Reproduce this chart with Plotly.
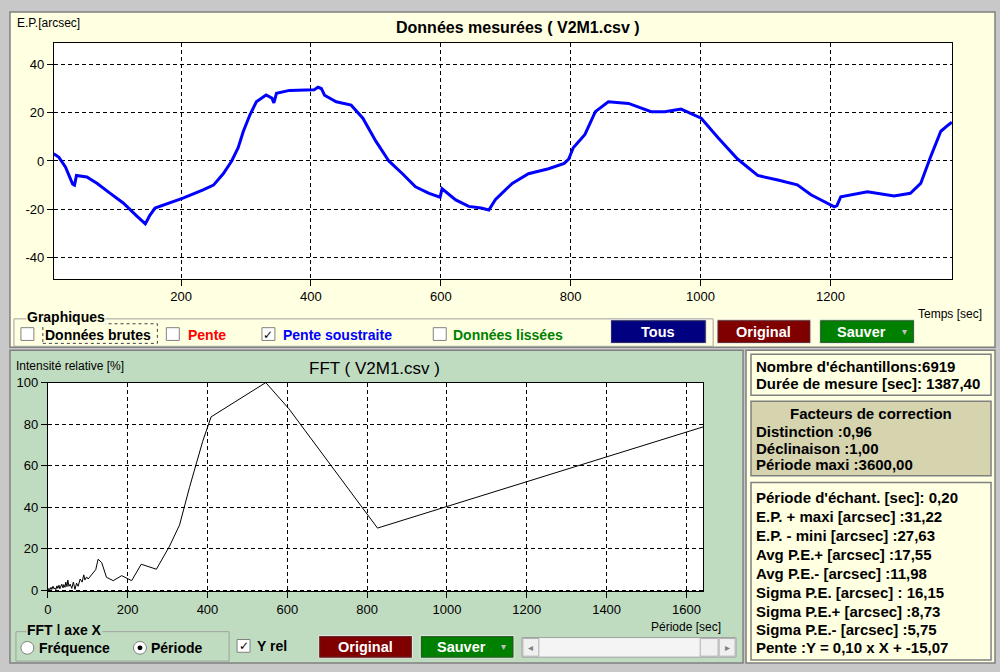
import plotly.graph_objects as go

# Données mesurées (pente soustraite) : temps [sec] / E.P. [arcsec]
temps = [4, 12, 22, 33, 36, 39, 55, 71, 91, 111,
         132, 145, 148, 152, 160, 183, 203, 234, 250, 265,
         278, 288, 296, 306, 316, 331, 340, 343, 347, 367,
         388, 405, 411, 416, 421, 439, 462, 480, 500, 520,
         541, 561, 582, 599, 602, 623, 643, 662, 674, 684,
         694, 710, 735, 766, 790, 797, 804, 822, 838, 858,
         889, 924, 945, 970, 1001, 1027, 1057, 1088, 1119, 1149,
         1170, 1190, 1206, 1210, 1216, 1257, 1298, 1323, 1339, 1354,
         1370, 1382, 1387]
erreur = [3, 1.5, -2.5, -9.5, -10, -6, -6.6, -9.3, -13.4, -17.4,
          -22.8, -26, -24.5, -22.5, -19.5, -17.4, -15.4, -12, -10, -5.3,
          0, 5.5, 12.3, 19, 24.5, 27.3, 26, 24, 28, 29.2,
          29.2, 29.5, 30.5, 30, 27.2, 24.5, 23.1, 17.7, 8.2, 0,
          -5.3, -10.7, -13.4, -15, -11.5, -16.1, -18.8, -19.5, -20.3, -16,
          -13.4, -9.3, -5.3, -3.2, -1, 0.8, 5.5, 11, 20.4, 24.5,
          23.8, 20.4, 20.4, 21.5, 17.7, 9.6, 0.8, -6, -7.9, -9.9,
          -14, -16.8, -19, -18.5, -14.8, -12.7, -14.5, -13.4, -9.3, 1.5,
          12.3, 15, 16]

# FFT : période [sec] / intensité relative [%]
periode = [0, 3, 5, 8, 10, 13, 15, 18, 20, 23,
           25, 28, 30, 33, 35, 38, 40, 43, 45, 48,
           50, 53, 56, 60, 64, 68, 72, 76, 81, 86,
           90, 93, 97, 101, 107, 114, 120, 126, 135, 147,
           164, 185, 201, 210, 234, 272, 305, 330, 355, 388,
           409, 546, 604, 821, 826, 1642]
intensite = [0, 1, 0.3, 1.5, 0.5, 2, 0.8, 1.2, 0.4, 2.2,
             1, 2.5, 0.8, 1.8, 3, 1.2, 2.8, 1.5, 4, 1.8,
             5, 2, 3, 1, 4, 0.5, 3.5, 2, 5.5, 4,
             7.5, 5, 6.5, 5.5, 7, 8.7, 10, 15, 13.4, 6.3,
             4.7, 7.1, 5.5, 4.7, 12.6, 10.2, 21.3, 31.5, 49.6, 71.7,
             83.5, 100, 87.4, 30.7, 30, 78.7]

top_xticks = [200, 400, 600, 800, 1000, 1200]
top_yticks = [-40, -20, 0, 20, 40]
fft_xticks = [0, 200, 400, 600, 800, 1000, 1200, 1400, 1600]
fft_yticks = [0, 20, 40, 60, 80, 100]

info_lines = ["Nombre d'échantillons:6919", "Durée de mesure [sec]: 1387,40"]
correction_lines = ["Distinction :0,96", "Déclinaison :1,00", "Période maxi :3600,00"]
stats_lines = [
    "Période d'échant. [sec]: 0,20",
    "E.P. + maxi [arcsec] :31,22",
    "E.P. - mini [arcsec] :27,63",
    "Avg P.E.+ [arcsec] :17,55",
    "Avg P.E.- [arcsec] :11,98",
    "Sigma P.E. [arcsec] : 16,15",
    "Sigma P.E.+ [arcsec] :8,73",
    "Sigma P.E.- [arcsec] :5,75",
    "Pente :Y = 0,10 x X + -15,07",
]

W, H = 1000, 672
SANS = "Liberation Sans, Arial, sans-serif"
NARROW = "Liberation Sans Narrow, Arial Narrow, Liberation Sans, sans-serif"
YELLOW = "#FFFFE1"
GREEN_BG = "#C0DCC0"
KHAKI = "#D6D3AF"

shapes = []
annotations = []


def X(px):
    return px / W


def Y(py):
    return 1 - py / H


def box(x0, y0, x1, y1, fill="rgba(0,0,0,0)", line="#808080", width=1,
        dash="solid", layer="above", kind="rect"):
    shapes.append(dict(type=kind, xref="paper", yref="paper",
                       x0=X(x0), y0=Y(y1), x1=X(x1), y1=Y(y0),
                       fillcolor=fill, layer=layer,
                       line=dict(color=line, width=width, dash=dash)))


def label(px, py, s, size=13, color="black", family=SANS, xanchor="left", bg=None):
    a = dict(x=X(px), y=Y(py), xref="paper", yref="paper", text=s,
             showarrow=False, xanchor=xanchor, yanchor="middle",
             font=dict(family=family, size=size, color=color))
    if bg:
        a["bgcolor"] = bg
        a["borderpad"] = 0
    annotations.append(a)


def button(x0, y0, x1, y1, fill, s, arrow=False):
    box(x0, y0, x1, y1, fill=fill, line="#F0F0F0", width=1)
    box(x0 + 1, y0 + 1, x1 - 1, y1 - 1, line="#404040", width=0.6)
    cx = (x0 + x1) / 2 - (6 if arrow else 0)
    label(cx, (y0 + y1) / 2, "<b>" + s + "</b>", size=14.5, color="white",
          family=NARROW, xanchor="center")
    if arrow:
        label(x1 - 10, (y0 + y1) / 2, "▾", size=10, color="#C0C0C0",
              family="DejaVu Sans", xanchor="center")


def checkbox(x0, y0, checked=False):
    box(x0, y0, x0 + 13, y0 + 13, fill="white", line="#808080", width=1)
    if checked:
        label(x0 + 6.5, y0 + 7, "<b>✓</b>", size=12, family="DejaVu Sans",
              xanchor="center")


# window panels
box(6, 5, 995, 347, fill=YELLOW, line="#808080", width=1.5, layer="below")
box(6, 350, 742, 669, fill=GREEN_BG, line="#808080", width=1.5, layer="below")
box(745, 350, 995, 669, fill=YELLOW, line="#808080", width=1.5, layer="below")
# plot areas
box(50, 37, 952, 277, fill="white", line="black", width=0, layer="below")
box(44, 383, 702, 596, fill="white", line="black", width=0, layer="below")

# right column boxes
box(750, 354, 991, 396, fill=YELLOW, line="#808080", width=1.5)
box(750, 402, 991, 478, fill=KHAKI, line="#808080", width=1.5)
box(750, 485, 991, 666, fill=YELLOW, line="#808080", width=1.5)
label(753, 367, "<b>" + info_lines[0] + "</b>", size=15)
label(753, 384, "<b>" + info_lines[1] + "</b>", size=15)
label(870, 415, "<b>Facteurs de correction</b>", size=15, xanchor="center")
for i, s in enumerate(correction_lines):
    label(753, 433 + i * 17, "<b>" + s + "</b>", size=15)
stats_y = [500, 520, 539, 558, 578, 597, 616, 635, 653]
for s, yy in zip(stats_lines, stats_y):
    label(753, yy, "<b>" + s + "</b>", size=15)

# top panel texts and controls
label(11, 16, "E.P.[arcsec]", size=12)
label(516, 21, "<b>Données mesurées ( V2M1.csv )</b>", size=16, xanchor="center")
label(916, 313, "Temps [sec]", size=12, family=NARROW)
box(10, 318, 712, 346, line="#A0A0A0", width=1)
label(22, 316, "<b>Graphiques</b>", size=14, family=NARROW, bg=YELLOW)
checkbox(17, 327)
box(39, 323, 154, 343, line="#404040", width=1, dash="dot")
label(39, 334, "<b>Données brutes</b>", size=14, family=NARROW)
checkbox(163, 327)
label(183, 334, "<b>Pente</b>", size=14, family=NARROW, color="#FF0000")
checkbox(259, 327, checked=True)
label(278, 334, "<b>Pente soustraite</b>", size=14, family=NARROW, color="#0000FF")
checkbox(431, 327)
label(449, 334, "<b>Données lissées</b>", size=14, family=NARROW, color="#008000")
button(609, 319, 705, 343, "#000080", "Tous")
button(716, 319, 810, 343, "#800000", "Original")
button(819, 319, 914, 343, "#008000", "Sauver", arrow=True)

# bottom panel texts and controls
label(10, 366, "Intensité relative [%]", size=12, family=NARROW)
label(372, 369, "FFT ( V2M1.csv )", size=17, xanchor="center")
label(648, 632, "Période [sec]", size=12, family=NARROW)
box(12, 637, 226, 667, line="#A0A0A0", width=1)
label(22, 635, "<b>FFT ǀ axe X</b>", size=14, family=NARROW, bg=GREEN_BG)
box(17, 647, 30, 660, fill="white", line="#808080", width=1, kind="circle")
label(33, 654, "<b>Fréquence</b>", size=14, family=NARROW)
box(130, 647, 143, 660, fill="white", line="#808080", width=1, kind="circle")
box(134, 651, 139, 656, fill="black", line="black", width=0, kind="circle")
label(146, 654, "<b>Période</b>", size=14, family=NARROW)
checkbox(234, 645, checked=True)
label(252, 652, "<b>Y rel</b>", size=14, family=NARROW)
button(316, 641, 410, 664, "#800000", "Original")
button(418, 641, 512, 664, "#008000", "Sauver", arrow=True)
box(520, 643, 735, 663, fill="#F4F4F4", line="#A0A0A0", width=1)
box(521, 644, 537, 662, fill="#F0F0F0", line="#B0B0B0", width=1)
box(699, 644, 717, 662, fill="#F0F0F0", line="#B0B0B0", width=1)
box(718, 644, 734, 662, fill="#F0F0F0", line="#B0B0B0", width=1)
label(529, 653, "◂", size=10, color="#808080", family="DejaVu Sans", xanchor="center")
label(726, 653, "▸", size=10, color="#808080", family="DejaVu Sans", xanchor="center")

fig = go.Figure()
fig.add_trace(go.Scatter(x=temps, y=erreur, mode="lines", xaxis="x", yaxis="y",
                         line=dict(color="#0000FF", width=3), hoverinfo="skip"))
fig.add_trace(go.Scatter(x=periode, y=intensite, mode="lines", xaxis="x2", yaxis="y2",
                         line=dict(color="black", width=1), hoverinfo="skip"))

axis_style = dict(showline=True, mirror=True, linecolor="black", linewidth=1,
                  ticks="outside", ticklen=6, tickcolor="black",
                  showgrid=True, gridcolor="black", gridwidth=1, griddash="4px,3px",
                  zeroline=False, tickfont=dict(family=SANS, size=13, color="black"))
fft_style = dict(axis_style, tickfont=dict(family=NARROW, size=13, color="black"))

fig.update_layout(
    width=W, height=H, autosize=False,
    margin=dict(l=0, r=0, t=0, b=0),
    paper_bgcolor="#C8C8C8", plot_bgcolor="white",
    showlegend=False,
    xaxis=dict(domain=[X(50), X(952)], range=[4.1, 1387.5], tickvals=top_xticks,
               anchor="y", **axis_style),
    yaxis=dict(domain=[Y(277), Y(37)], range=[-48.7, 48.7], tickvals=top_yticks,
               ticktext=[str(v) for v in top_yticks], anchor="x", **axis_style),
    xaxis2=dict(domain=[X(44), X(702)], range=[0, 1642], tickvals=fft_xticks,
                anchor="y2", **fft_style),
    yaxis2=dict(domain=[Y(596), Y(383)], range=[-0.5, 100], tickvals=fft_yticks,
                anchor="x2", **fft_style),
    shapes=shapes,
    annotations=annotations,
)

fig.write_html("out.html", config={"displayModeBar": False},
               post_script="document.body.style.margin='0';")
